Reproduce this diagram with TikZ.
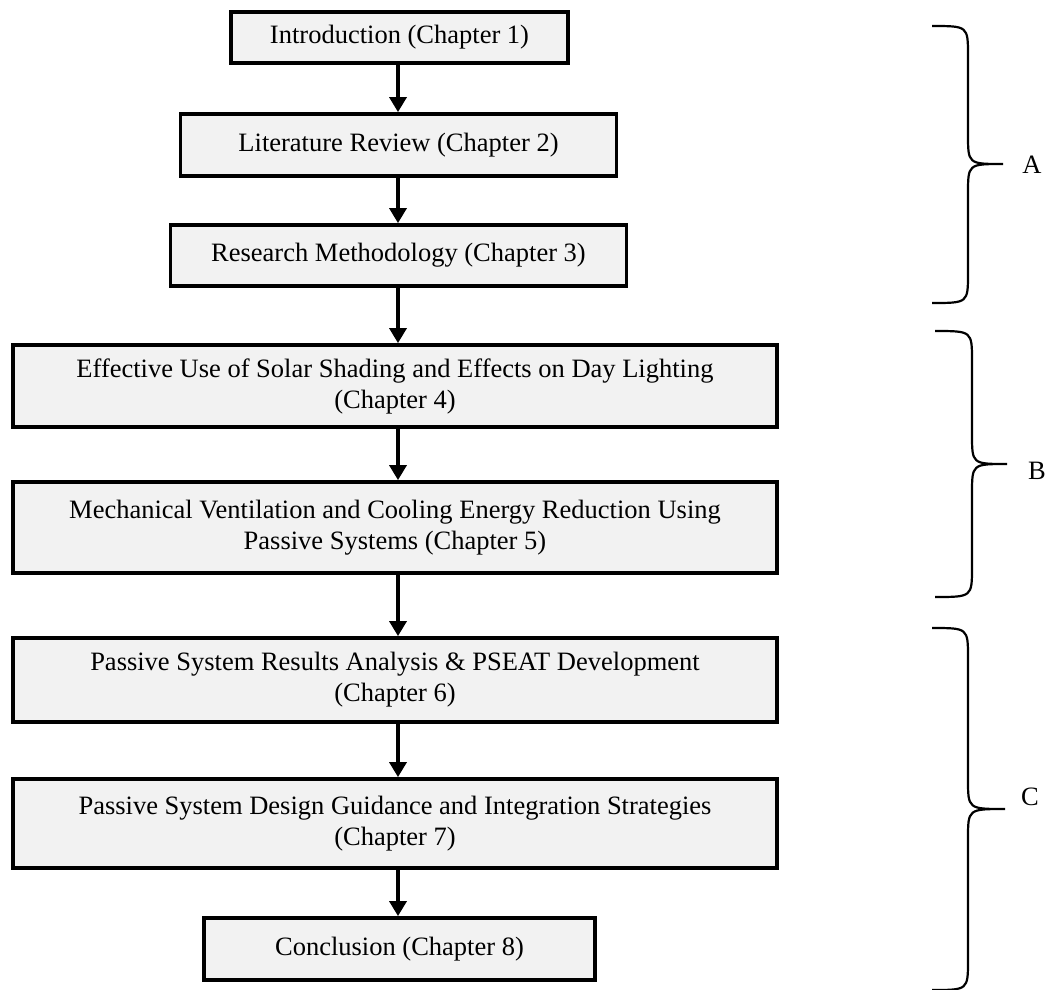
\documentclass[tikz,border=0pt]{standalone}
\usepackage{fontspec}
\setmainfont{Liberation Serif}
\usetikzlibrary{arrows.meta}
\definecolor{boxgray}{HTML}{F2F2F2}
\begin{document}
\begin{tikzpicture}[x=1pt,y=-1pt,
  chap/.style={draw=black, line width=3.8pt, fill=boxgray, inner sep=0pt,
    align=center, font=\fontsize{26.5}{31}\selectfont},
  link/.style={line width=3.4pt, -{Triangle[width=17pt,length=15pt]}},
  curly/.style={line width=2.2pt},
  tag/.style={inner sep=0pt, font=\fontsize{26.5}{31}\selectfont}]
\useasboundingbox (0,0) rectangle (1053,989);

% chapter boxes
\node[chap, minimum width=337pt, minimum height=51pt] (c1) at (399.5,37.5) {Introduction (Chapter 1)};
\node[chap, minimum width=436pt, minimum height=62pt] (c2) at (398.5,145) {Literature Review (Chapter 2)};
\node[chap, minimum width=456pt, minimum height=61pt] (c3) at (398.5,255.5) {Research Methodology (Chapter 3)};
\node[chap, minimum width=764pt, minimum height=82pt] (c4) at (395,386)
  {Effective Use of Solar Shading and Effects on Day Lighting\\(Chapter 4)};
\node[chap, minimum width=764pt, minimum height=91pt] (c5) at (395,527.5)
  {Mechanical Ventilation and Cooling Energy Reduction Using\\Passive Systems (Chapter 5)};
\node[chap, minimum width=764pt, minimum height=84pt] (c6) at (395,680)
  {Passive System Results Analysis \& PSEAT Development\\(Chapter 6)};
\node[chap, minimum width=764pt, minimum height=89pt] (c7) at (395,823.5)
  {Passive System Design Guidance and Integration Strategies\\(Chapter 7)};
\node[chap, minimum width=391pt, minimum height=62pt] (c8) at (399.5,949) {Conclusion (Chapter 8)};

% downward links on one common axis
\coordinate (ax) at (398,0);
\draw[link] (c1.south -| ax) -- (c2.north -| ax);
\draw[link] (c2.south -| ax) -- (c3.north -| ax);
\draw[link] (c3.south -| ax) -- (c4.north -| ax);
\draw[link] (c4.south -| ax) -- (c5.north -| ax);
\draw[link] (c5.south -| ax) -- (c6.north -| ax);
\draw[link] (c6.south -| ax) -- (c7.north -| ax);
\draw[link] (c7.south -| ax) -- (c8.north -| ax);

% grouping braces
\draw[curly] (932,26) .. controls (968,26) .. (968,56) -- (968,134)
  .. controls (968,164) .. (1003,164) .. controls (968,164) .. (968,194)
  -- (968,273) .. controls (968,303) .. (932,303);
\draw[curly] (935,331) .. controls (972,331) .. (972,361) -- (972,434)
  .. controls (972,464) .. (1007,464) .. controls (972,464) .. (972,494)
  -- (972,567) .. controls (972,597) .. (935,597);
\draw[curly] (932,628) .. controls (968,628) .. (968,658) -- (968,779)
  .. controls (968,809) .. (1005,809) .. controls (968,809) .. (968,839)
  -- (968,960) .. controls (968,990) .. (932,990);

\node[tag] (ga) at (1032,164.5) {A};
\node[tag] (gb) at (1037,471) {B};
\node[tag] (gc) at (1030,797) {C};
\end{tikzpicture}
\end{document}
